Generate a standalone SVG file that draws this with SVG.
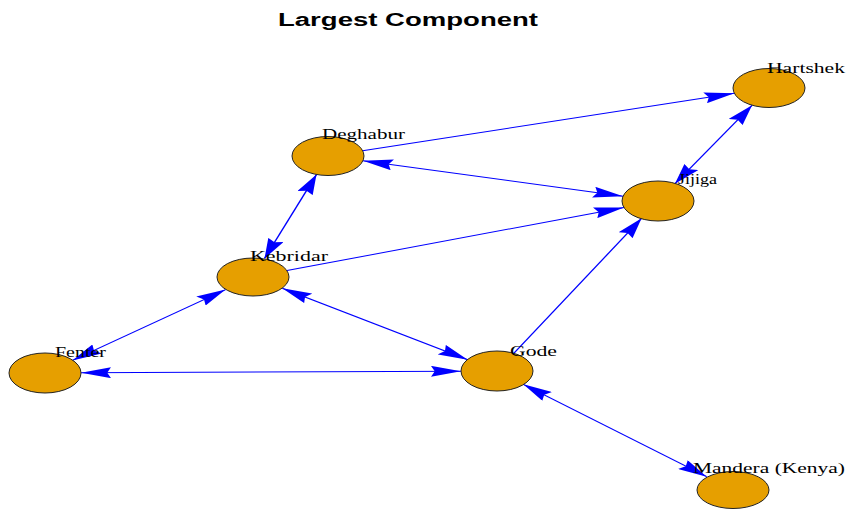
<svg xmlns="http://www.w3.org/2000/svg" width="846" height="510" viewBox="0 0 846 510">
<style>
.e{stroke:#0000FF;stroke-width:1;fill:none}
.n{fill:#E69F00;stroke:#222;stroke-width:1}
.l{font-family:"Liberation Serif","Times New Roman",serif;font-size:15px;fill:#000}
.t{font-family:"Liberation Sans",Arial,sans-serif;font-size:18px;font-weight:bold;fill:#000}
</style>
<defs>
<marker id="arr" viewBox="0 0 20 11" refX="20" refY="5.5" markerWidth="20" markerHeight="11" markerUnits="userSpaceOnUse" orient="auto-start-reverse">
<path d="M0,0 L20,5.5 L0,11 L2.5,5.5 Z" fill="#0000FF"/>
</marker>
</defs>
<rect width="846" height="510" fill="#fff"/>
<text class="t" x="278" y="26" textLength="260" lengthAdjust="spacingAndGlyphs">Largest Component</text>
<g id="connectors" transform="scale(1.5 1)">
<line class="e" x1="241.73" y1="150.7" x2="489.6" y2="93.3" marker-end="url(#arr)"/>
<line class="e" x1="241.93" y1="160.8" x2="415.4" y2="196.2" marker-start="url(#arr)" marker-end="url(#arr)"/>
<line class="e" x1="501.4" y1="105.2" x2="449.93" y2="183.8" marker-start="url(#arr)" marker-end="url(#arr)"/>
<line class="e" x1="211" y1="174.5" x2="176.33" y2="258.5" marker-start="url(#arr)" marker-end="url(#arr)"/>
<line class="e" x1="191.33" y1="270.6" x2="416" y2="207.4" marker-end="url(#arr)"/>
<line class="e" x1="150.4" y1="289.6" x2="48.27" y2="360.4" marker-start="url(#arr)" marker-end="url(#arr)"/>
<line class="e" x1="188.2" y1="288.3" x2="311.8" y2="359.7" marker-start="url(#arr)" marker-end="url(#arr)"/>
<line class="e" x1="54" y1="372.8" x2="307.33" y2="371.2" marker-start="url(#arr)" marker-end="url(#arr)"/>
<line class="e" x1="342.27" y1="353.7" x2="427.73" y2="218.3" marker-end="url(#arr)"/>
<line class="e" x1="348.87" y1="384.3" x2="471.13" y2="476.7" marker-start="url(#arr)" marker-end="url(#arr)"/>
</g>
<g id="deghabur"><ellipse class="n" cx="328" cy="156" rx="36" ry="19.5"/><text class="l" x="322" y="139" textLength="83" lengthAdjust="spacingAndGlyphs">Deghabur</text></g>
<g id="jijiga"><ellipse class="n" cx="658" cy="201" rx="36" ry="20"/><text class="l" x="678" y="184" textLength="39" lengthAdjust="spacingAndGlyphs">Jijiga</text></g>
<g id="hartshek"><ellipse class="n" cx="769" cy="88" rx="36" ry="19.5"/><text class="l" x="767" y="73" textLength="78" lengthAdjust="spacingAndGlyphs">Hartshek</text></g>
<g id="kebridar"><ellipse class="n" cx="253" cy="277" rx="36" ry="19"/><text class="l" x="250" y="261" textLength="78" lengthAdjust="spacingAndGlyphs">Kebridar</text></g>
<g id="fenter"><ellipse class="n" cx="45" cy="373" rx="36" ry="20"/><text class="l" x="55" y="357" textLength="51" lengthAdjust="spacingAndGlyphs">Fenter</text></g>
<g id="gode"><ellipse class="n" cx="497" cy="371" rx="36" ry="20"/><text class="l" x="510" y="356" textLength="47" lengthAdjust="spacingAndGlyphs">Gode</text></g>
<g id="mandera"><ellipse class="n" cx="733" cy="490" rx="36" ry="18.5"/><text class="l" x="693" y="473" textLength="152" lengthAdjust="spacingAndGlyphs">Mandera (Kenya)</text></g>
</svg>
